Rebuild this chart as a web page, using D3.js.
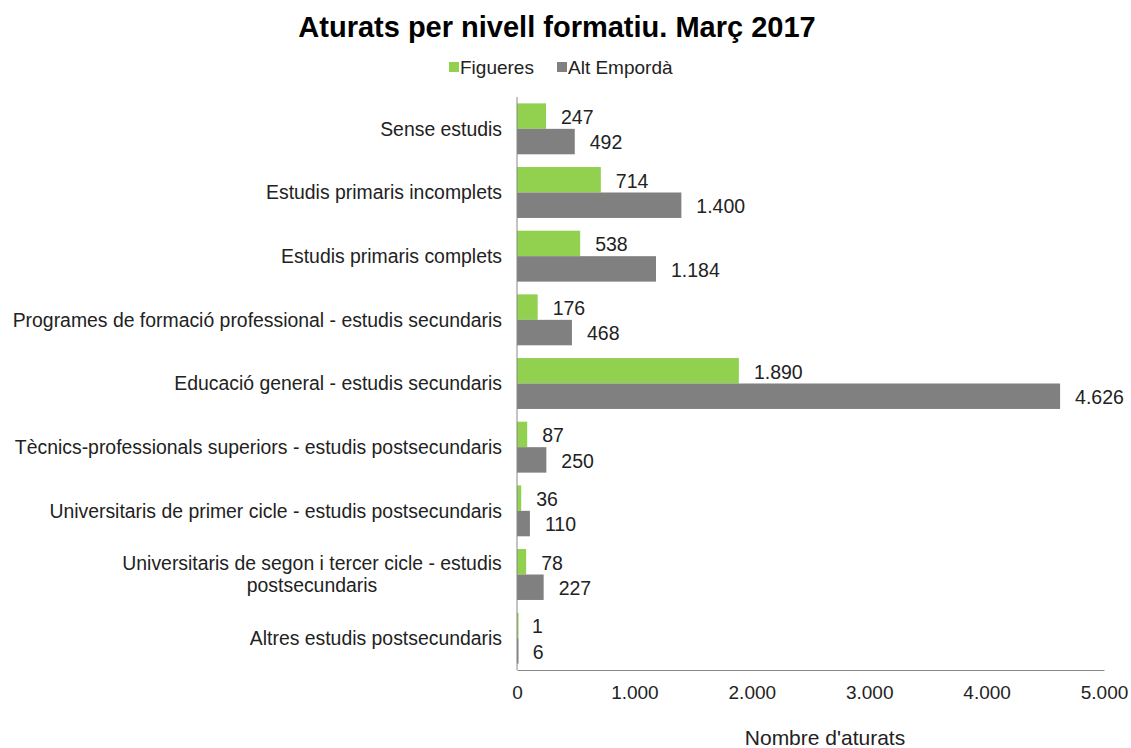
<!DOCTYPE html>
<html>
<head>
<meta charset="utf-8">
<script src="https://cdn.jsdelivr.net/npm/d3@7"></script>
<style>
  body { margin: 0; background: #fff; }
  svg { font-family: "Liberation Sans", Arial, sans-serif; }
</style>
</head>
<body>
<div id="chart"></div>
<script>
const categories = [
  'Sense estudis',
  'Estudis primaris incomplets',
  'Estudis primaris complets',
  'Programes de formació professional - estudis secundaris',
  'Educació general - estudis secundaris',
  'Tècnics-professionals superiors - estudis postsecundaris',
  'Universitaris de primer cicle - estudis postsecundaris',
  'Universitaris de segon i tercer cicle - estudis|postsecundaris',
  'Altres estudis postsecundaris'
];
const figueres = [247, 714, 538, 176, 1890, 87, 36, 78, 1];
const altEmporda = [492, 1400, 1184, 468, 4626, 250, 110, 227, 6];
const seriesNames = ['Figueres', 'Alt Empordà'];
const xTicks = [0, 1000, 2000, 3000, 4000, 5000];

const colors = ['#92D050', '#808080'];
const width = 1131, height = 748;
const margin = {top: 97, right: 27, bottom: 78, left: 517};

const fmt = v => d3.format(',')(v).replace(/,/g, '.');

const svg = d3.select('#chart').append('svg')
  .attr('width', width).attr('height', height);

// title + legend
svg.append('text')
  .attr('x', 557).attr('y', 37)
  .attr('text-anchor', 'middle')
  .style('font-size', '29px').style('font-weight', 'bold')
  .text('Aturats per nivell formatiu. Març 2017');

const legendX = [449, 557];
seriesNames.forEach((name, i) => {
  const g = svg.append('g').attr('transform', `translate(${legendX[i]},67)`);
  g.append('rect').attr('x', 0).attr('y', -5).attr('width', 10).attr('height', 10).attr('fill', colors[i]);
  g.append('text').attr('x', 11).attr('y', 0).attr('dy', '0.35em')
    .style('font-size', '19px').attr('fill', '#222').text(name);
});

const x = d3.scaleLinear().domain([0, 5000]).range([margin.left, width - margin.right]);
const y = d3.scaleBand().domain(categories).range([margin.top, height - margin.bottom]).paddingInner(0.2).paddingOuter(0.1);
const sub = d3.scaleBand().domain([0, 1]).range([0, y.bandwidth()]);

const rows = categories.map((c, i) => ({cat: c, vals: [figueres[i], altEmporda[i]]}));

const groups = svg.selectAll('g.row').data(rows).enter().append('g')
  .attr('class', 'row')
  .attr('transform', d => `translate(0,${y(d.cat)})`);

// tiny values still get a visible sliver, like the original
groups.selectAll('rect').data(d => d.vals).enter().append('rect')
  .attr('x', x(0))
  .attr('y', (d, i) => sub(i))
  .attr('width', d => Math.max(1.5, x(d) - x(0)))
  .attr('height', sub.bandwidth())
  .attr('fill', (d, i) => colors[i]);

groups.selectAll('text.val').data(d => d.vals).enter().append('text')
  .attr('class', 'val')
  .attr('y', (d, i) => sub(i) + sub.bandwidth() / 2 + 1)
  .attr('dy', '0.35em')
  .style('font-size', '19.5px').attr('fill', '#222')
  .text(d => fmt(d))
  .attr('x', function(d) {
    const w = this.getComputedTextLength();
    return Math.min(x(d) + 15, width - 6 - w);
  });

// category labels
groups.each(function(d) {
  const lines = d.cat.split('|');
  const cy = y.bandwidth() / 2;
  const t = d3.select(this).append('text')
    .style('font-size', '19.4px').attr('fill', '#222');
  const lh = 22;
  if (lines.length === 1) {
    t.attr('text-anchor', 'end').attr('x', margin.left - 15).attr('y', cy).attr('dy', '0.35em').text(lines[0]);
  } else {
    t.attr('text-anchor', 'middle');
    lines.forEach((ln, k) => {
      t.append('tspan').attr('x', 312)
        .attr('y', cy + (k - (lines.length - 1) / 2) * lh)
        .attr('dy', '0.35em').text(ln);
    });
  }
});

// axes
svg.append('line')
  .attr('x1', x(0)).attr('x2', x(0))
  .attr('y1', margin.top).attr('y2', height - margin.bottom)
  .attr('stroke', '#888');

const xAxis = svg.append('g')
  .attr('transform', `translate(0,${height - margin.bottom})`)
  .call(d3.axisBottom(x).tickValues(xTicks).tickSize(0).tickPadding(16).tickFormat(fmt));
xAxis.select('.domain').attr('stroke', '#888');
xAxis.selectAll('text').style('font-size', '19px').attr('fill', '#222')
  .style('font-family', '"Liberation Sans", Arial, sans-serif');

svg.append('text')
  .attr('x', 825).attr('y', 745)
  .attr('text-anchor', 'middle')
  .style('font-size', '21px').attr('fill', '#222')
  .text("Nombre d'aturats");
</script>
</body>
</html>
